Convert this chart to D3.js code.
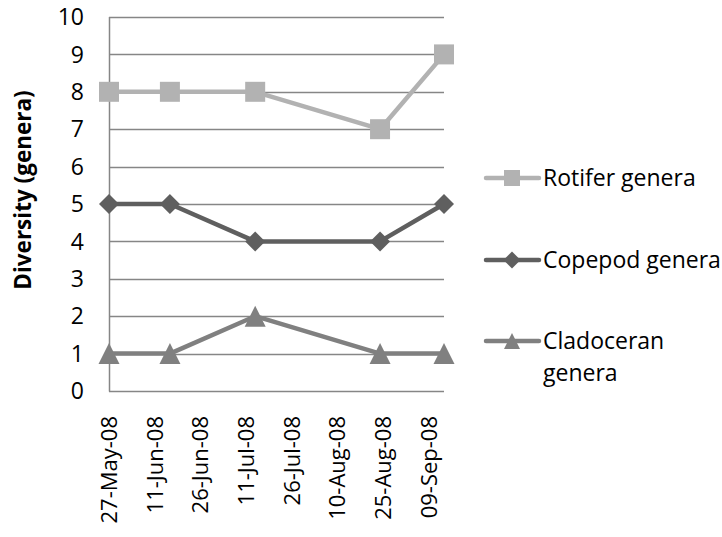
<!DOCTYPE html>
<html>
<head>
<meta charset="utf-8">
<script src="https://cdn.jsdelivr.net/npm/d3@7"></script>
<style>
  html, body { margin: 0; padding: 0; background: #fff; }
  svg { display: block; }
  text { font-family: "Open Sans", "Noto Sans", sans-serif; fill: #000; }
</style>
</head>
<body>
<svg id="chart" width="722" height="537"></svg>
<script>
// ---- data ----
const sampleDates = ["2008-05-27", "2008-06-16", "2008-07-14", "2008-08-24", "2008-09-14"];
const rotifer = [8, 8, 8, 7, 9];
const copepod = [5, 5, 4, 4, 5];
const cladoceran = [1, 1, 2, 1, 1];
const seriesNames = ["Rotifer genera", "Copepod genera", "Cladoceran genera"];
const xTickDates = ["2008-05-27", "2008-06-11", "2008-06-26", "2008-07-11", "2008-07-26", "2008-08-10", "2008-08-25", "2008-09-09"];
const yTicks = [0, 1, 2, 3, 4, 5, 6, 7, 8, 9, 10];
const yTitle = "Diversity (genera)";

const parse = d3.timeParse("%Y-%m-%d");
const fmt = d3.timeFormat("%d-%b-%y");

const svg = d3.select("#chart");
const pLeft = 109, pRight = 444, pTop = 17, pBottom = 391;

const x = d3.scaleTime()
  .domain([parse("2008-05-27"), parse("2008-09-14")])
  .range([pLeft, pRight]);
const y = d3.scaleLinear().domain([0, 10]).range([pBottom, pTop]);

const gridColor = "#868686";

// horizontal gridlines
svg.append("g").selectAll("line").data(yTicks.filter(d => d > 0)).join("line")
  .attr("x1", pLeft).attr("x2", pRight)
  .attr("y1", d => Math.round(y(d)) + 0.5).attr("y2", d => Math.round(y(d)) + 0.5)
  .attr("stroke", gridColor).attr("stroke-width", 1.3);

// axes lines
svg.append("line").attr("x1", pLeft + 0.5).attr("x2", pLeft + 0.5)
  .attr("y1", pTop).attr("y2", pBottom + 0.5)
  .attr("stroke", gridColor).attr("stroke-width", 1.5);
svg.append("line").attr("x1", pLeft).attr("x2", pRight)
  .attr("y1", pBottom + 0.5).attr("y2", pBottom + 0.5)
  .attr("stroke", gridColor).attr("stroke-width", 1.5);

// y tick labels
svg.append("g").selectAll("text").data(yTicks).join("text")
  .attr("x", 84).attr("y", d => y(d))
  .attr("dy", "0.36em")
  .attr("text-anchor", "end")
  .attr("font-size", 23)
  .text(d => d);

// x tick labels
svg.append("g").selectAll("text").data(xTickDates).join("text")
  .attr("transform", d => `translate(${x(parse(d))},416) rotate(-90)`)
  .attr("dy", "0.36em")
  .attr("text-anchor", "end")
  .attr("font-size", 22)
  .text(d => fmt(parse(d)));

// y title
svg.append("text")
  .attr("transform", `translate(31,190) rotate(-90)`)
  .attr("text-anchor", "middle")
  .attr("font-size", 22.5)
  .attr("font-weight", "bold")
  .text(yTitle);

// marker shapes
function squarePath(s) { const p = d3.path(); p.rect(-s, -s, 2 * s, 2 * s); return p.toString(); }
function diamondPath(s) { const p = d3.path(); p.moveTo(0, -s); p.lineTo(s, 0); p.lineTo(0, s); p.lineTo(-s, 0); p.closePath(); return p.toString(); }
function trianglePath(s) { const p = d3.path(); p.moveTo(0, -s); p.lineTo(s, s); p.lineTo(-s, s); p.closePath(); return p.toString(); }

const series = [
  { name: seriesNames[0], values: rotifer, color: "#B2B2B2", shape: squarePath, size: 10, lsize: 8 },
  { name: seriesNames[1], values: copepod, color: "#5F5F5F", shape: diamondPath, size: 10, lsize: 8.5 },
  { name: seriesNames[2], values: cladoceran, color: "#808080", shape: trianglePath, size: 10.5, lsize: 8 }
];

const line = d3.line().x(d => x(d.date)).y(d => y(d.v));

series.forEach(s => {
  const pts = sampleDates.map((d, i) => ({ date: parse(d), v: s.values[i] }));
  svg.append("path").datum(pts)
    .attr("d", line)
    .attr("fill", "none")
    .attr("stroke", s.color)
    .attr("stroke-width", 4.5)
    .attr("stroke-linejoin", "round")
    .attr("stroke-linecap", "round");
  svg.append("g").selectAll("path").data(pts).join("path")
    .attr("transform", d => `translate(${x(d.date)},${y(d.v)})`)
    .attr("d", s.shape(s.size))
    .attr("fill", s.color);
});

// legend
const legendY = [178, 260, 341];
series.forEach((s, i) => {
  const g = svg.append("g").attr("transform", `translate(0,${legendY[i]})`);
  g.append("line").attr("x1", 486).attr("x2", 539).attr("y1", 0).attr("y2", 0)
    .attr("stroke", s.color).attr("stroke-width", 4.5).attr("stroke-linecap", "round");
  g.append("path").attr("transform", "translate(512,0)").attr("d", s.shape(s.lsize)).attr("fill", s.color);
  const t = g.append("text").attr("x", 543).attr("y", 0).attr("dy", "0.36em").attr("font-size", 23);
  if (i === 2) {
    t.append("tspan").attr("x", 543).text("Cladoceran");
    t.append("tspan").attr("x", 543).attr("dy", 32).text("genera");
  } else {
    t.text(s.name);
  }
});
</script>
</body>
</html>
